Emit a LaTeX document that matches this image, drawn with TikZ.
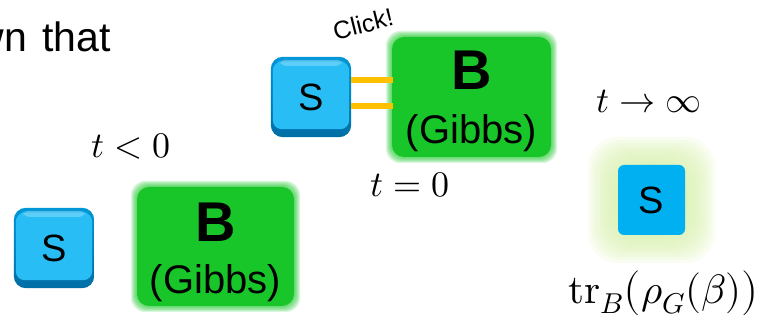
\documentclass[tikz,border=0pt]{standalone}
\usepackage{fontspec}
\usepackage{unicode-math}
\setmainfont{Liberation Sans}
\setmathfont{Latin Modern Math}
\definecolor{sysblue}{RGB}{0,176,240}
\definecolor{sysface}{RGB}{40,190,245}
\definecolor{sysedge}{RGB}{0,150,215}
\definecolor{sysdark}{RGB}{0,110,165}
\definecolor{bathgreen}{RGB}{25,198,41}
\definecolor{glowgreen}{RGB}{214,240,170}
\definecolor{linkorange}{RGB}{255,192,0}
\tikzset{
  label text/.style={inner sep=0pt, font=\fontsize{38}{44}\selectfont},
  math text/.style={inner sep=0pt, font=\fontsize{36}{42}\selectfont},
  bath title/.style={inner sep=0pt, font=\fontsize{56}{60}\selectfont\bfseries},
  bath sub/.style={inner sep=0pt, font=\fontsize{40}{46}\selectfont},
  link/.style={linkorange, line width=6.5pt},
}
% bevelled system box: darker rim, softly lit face
\newcommand{\sysbox}[3]{% name, center, size
  \node[minimum width=#3pt, minimum height=#3pt, inner sep=0pt] (#1) at #2 {};
  \shade[rounded corners=12pt, top color=sysedge, bottom color=sysdark]
    (#1.south west) rectangle (#1.north east);
  \foreach \k/\o in {0/0.4,1/0.5,2/1}
    \fill[sysface, opacity=\o, rounded corners=9pt]
      ([shift={(4pt-\k,-3pt-\k)}]#1.north west) rectangle ([shift={(-4pt+\k,10pt-\k)}]#1.south east);
  \fill[white, opacity=0.25, rounded corners=6pt]
    ([shift={(9pt,-3pt)}]#1.north west) rectangle ([shift={(-9pt,-9pt)}]#1.north east);
  \node[label text] at (#1) {S};
}
% heat bath with softened edge
\newcommand{\bathbox}[5]{% name, x1, y1, x2, y2
  \foreach \k in {6,5,4,3,2,1}
    \fill[bathgreen, opacity=0.16, rounded corners=14pt]
      (#2-\k,#3-\k) rectangle (#4+\k,#5+\k);
  \fill[bathgreen, rounded corners=12pt] (#2,#3) rectangle (#4,#5);
  \coordinate (#1) at ({(#2+#4)/2},{(#3+#5)/2});
}
\begin{document}
\begin{tikzpicture}[x=1pt, y=-1pt]
\useasboundingbox (0,0) rectangle (766,320);
\clip (0,0) rectangle (766,320);

% leftover sentence fragment
\node[inner sep=0pt, font=\fontsize{41}{46}\selectfont, anchor=base east] (frag) at (111,52) {wn\hspace{4pt} that};

% before coupling
\node[math text] (tneg) at (131,147) {$t<0$};
\sysbox{sA}{(54,248)}{80}
\bathbox{bA}{137}{187}{294}{306}
\node[bath title] (bAt) at (215.5,222) {B};
\node[bath sub] (bAs) at (215.5,283) {(Gibbs)};

% coupling switched on
\sysbox{sB}{(311,97)}{80}
\bathbox{bB}{392}{37}{551}{157}
\node[bath title] (bBt) at (471.5,70) {B};
\node[bath sub] (bBs) at (471.5,133) {(Gibbs)};
\coordinate (lu) at (393,80);
\coordinate (ld) at (393,106);
\draw[link] (sB.east |- lu) -- (lu);
\draw[link] (sB.east |- ld) -- (ld);
\node[inner sep=0pt, font=\fontsize{25}{30}\selectfont, rotate=14] (click) at (363,24) {Click!};
\node[math text] (tzero) at (410,185) {$t=0$};

% long-time limit
\node[math text] (tinf) at (649,101) {$t\to\infty$};
\foreach \k in {0,3,...,27}
  \fill[glowgreen, opacity=0.15, rounded corners=30pt]
    (588+\k,137+\k) rectangle (715-\k,263-\k);
\node[fill=sysblue, rounded corners=6pt, minimum width=67pt, minimum height=70pt,
      inner sep=0pt, label text] (sC) at (651.5,200) {S};
\node[inner sep=0pt, font=\fontsize{41}{47}\selectfont] (red) at (664,293) {$\symup{tr}_B\bigl(\rho_G(\beta)\bigr)$};
\end{tikzpicture}
\end{document}
